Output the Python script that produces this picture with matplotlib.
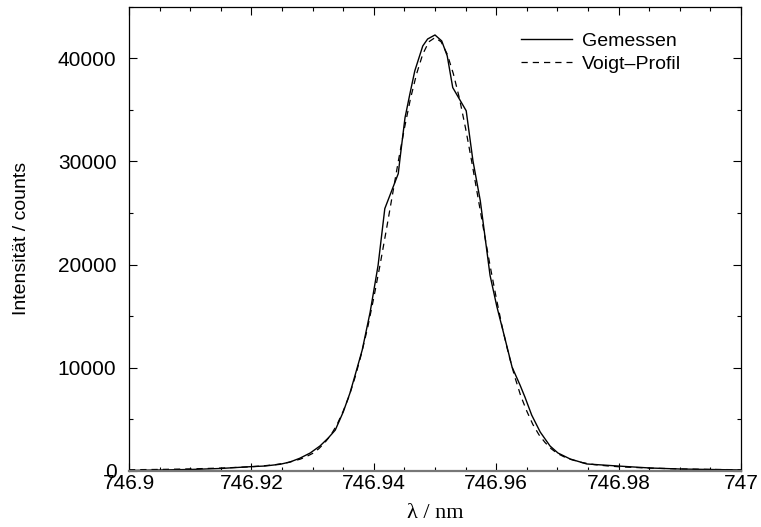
import matplotlib
matplotlib.use("Agg")
import matplotlib.pyplot as plt
from matplotlib.ticker import MultipleLocator

plt.rcParams['font.family'] = ['Liberation Sans', 'DejaVu Sans']

wl_meas = [746.9000, 746.9051, 746.9100, 746.9149, 746.9198, 746.9222, 746.9247,
           746.9263, 746.9279, 746.9296, 746.9312, 746.9325, 746.9337, 746.9350,
           746.9361, 746.9369, 746.9381, 746.9394, 746.9407, 746.9418, 746.9440,
           746.9443, 746.9451, 746.9459, 746.9467, 746.9480, 746.9488, 746.9500,
           746.9511, 746.9520, 746.9529, 746.9551, 746.9562, 746.9574, 746.9590,
           746.9601, 746.9613, 746.9626, 746.9639, 746.9647, 746.9658, 746.9672,
           746.9688, 746.9701, 746.9721, 746.9748, 746.9799, 746.9851, 746.9900,
           746.9949, 747.0000]
counts_meas = [50, 100, 145, 240, 415, 480, 650,
               870, 1230, 1740, 2420, 3160, 3960, 5710,
               7540, 9190, 11700, 15380, 19920, 25430, 28820,
               30360, 34230, 36550, 38780, 41190, 41870, 42260,
               41680, 40230, 37160, 34910, 30070, 26200, 18950,
               15960, 13150, 10060, 8320, 7160, 5420, 3770,
               2420, 1740, 1160, 680, 480, 290, 190,
               145, 100]

# Voigt fit
wl_fit = [746.900, 746.905, 746.910, 746.915, 746.920, 746.922, 746.924, 746.926,
          746.928, 746.929, 746.930, 746.931, 746.932, 746.933, 746.934, 746.935,
          746.936, 746.937, 746.938, 746.939, 746.940, 746.941, 746.942, 746.943,
          746.944, 746.945, 746.946, 746.947, 746.948, 746.949, 746.950,
          746.951, 746.952, 746.953, 746.954, 746.955, 746.956, 746.957,
          746.958, 746.959, 746.960, 746.961, 746.962, 746.963, 746.964,
          746.965, 746.966, 746.967, 746.968, 746.969, 746.970, 746.971,
          746.972, 746.974, 746.976, 746.978, 746.980, 746.985, 746.990,
          746.995, 747.000]
counts_fit = [120, 150, 200, 280, 410, 500, 620, 820,
              1150, 1400, 1700, 2150, 2750, 3500, 4500, 5800,
              7300, 9200, 11400, 13900, 16800, 19900, 23200, 26600,
              30000, 33200, 36100, 38500, 40400, 41600, 42000,
              41600, 40400, 38500, 36100, 33200, 30000, 26600,
              23200, 19900, 16800, 13900, 11400, 9200, 7300,
              5800, 4500, 3500, 2750, 2150, 1700, 1400,
              1150, 820, 620, 500, 410, 280, 200,
              150, 120]

x_ticks = [746.9, 746.92, 746.94, 746.96, 746.98, 747.0]
x_ticklabels = ['746.9', '746.92', '746.94', '746.96', '746.98', '747']

fig = plt.figure(figsize=(7.61, 5.27), dpi=100)
ax = fig.add_axes([0.1695, 0.1063, 0.8042, 0.881])

ax.plot(wl_meas, counts_meas, color='black', lw=1.0, label='Gemessen')
ax.plot(wl_fit, counts_fit, color='black', lw=0.9, linestyle=(0, (5, 4)),
        label='Voigt\u2013Profil')

ax.set_xlim(746.9, 747.0)
ax.set_ylim(0, 45000)
ax.set_xticks(x_ticks)
ax.set_xticklabels(x_ticklabels)
ax.xaxis.set_minor_locator(MultipleLocator(0.005))
ax.yaxis.set_major_locator(MultipleLocator(10000))
ax.yaxis.set_minor_locator(MultipleLocator(5000))

ax.tick_params(which='both', direction='in', top=True, right=True, labelsize=15)
ax.tick_params(which='major', length=6, width=0.8)
ax.tick_params(which='minor', length=3, width=0.8)
ax.tick_params(axis='x', pad=2)
ax.tick_params(axis='y', pad=9)
for s in ax.spines.values():
    s.set_linewidth(0.9)
ax.spines['bottom'].set_color('#777777')
ax.spines['bottom'].set_linewidth(1.6)

ax.set_ylabel('Intensität / counts', fontsize=14, labelpad=20)
ax.set_xlabel('\u03bb / nm', fontsize=16, family=['Liberation Serif', 'DejaVu Serif'],
              labelpad=8)

ax.legend(loc='upper right', frameon=False, fontsize=14, handlelength=2.6,
          handletextpad=0.5, labelspacing=0.25, bbox_to_anchor=(0.93, 0.982))

fig.savefig('out.png', dpi=100)
